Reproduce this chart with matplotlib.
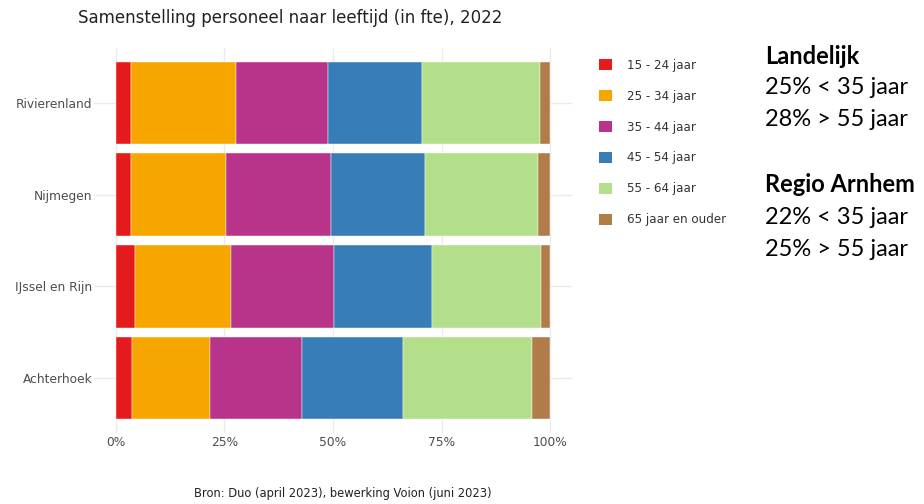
import numpy as np
import matplotlib.pyplot as plt
from matplotlib.patches import Patch
from matplotlib.ticker import FuncFormatter

regios = ['Rivierenland', 'Nijmegen', 'IJssel en Rijn', 'Achterhoek']
leeftijden = ['15 - 24 jaar', '25 - 34 jaar', '35 - 44 jaar',
              '45 - 54 jaar', '55 - 64 jaar', '65 jaar en ouder']

# aandeel fte per leeftijdsklasse (%), per regio
aandeel = {
    'Rivierenland':   [3.4, 24.3, 21.1, 21.6, 27.2, 2.4],
    'Nijmegen':       [3.4, 21.9, 24.2, 21.7, 25.9, 2.9],
    'IJssel en Rijn': [4.4, 22.2, 23.7, 22.4, 25.1, 2.2],
    'Achterhoek':     [3.7, 18.0, 21.1, 23.4, 29.7, 4.1],
}

kleuren = ['#e41a1c', '#f7a600', '#b8348b', '#377eb8', '#b3df8a', '#b07d4a']

fig = plt.figure(figsize=(9.24, 5.04), dpi=100)
ax = fig.add_axes([94 / 924, 1 - 433 / 504, 478 / 924, 385 / 504])

y = np.arange(len(regios))[::-1]
links = np.zeros(len(regios))
for i, lk in enumerate(leeftijden):
    w = np.array([aandeel[r][i] for r in regios]) / 100
    ax.barh(y, w, left=links, height=0.9, color=kleuren[i],
            edgecolor='white', linewidth=0.3, zorder=2)
    links += w

ax.set_xlim(-0.05, 1.05)
ax.set_ylim(-0.6, len(regios) - 0.4)
ax.set_xticks([0, 0.25, 0.5, 0.75, 1])
ax.xaxis.set_major_formatter(FuncFormatter(lambda v, p: f'{v * 100:.0f}%'))
ax.set_yticks(y)
ax.set_yticklabels(regios)
ax.tick_params(length=0, labelsize=8.8, labelcolor='#4d4d4d')
ax.tick_params(axis='y', pad=1)
ax.tick_params(axis='x', pad=2)
ax.grid(True, color='#ebebeb', linewidth=1, zorder=0)
ax.set_axisbelow(True)
for s in ax.spines.values():
    s.set_visible(False)

fig.text(290 / 924, 1 - 18 / 504, 'Samenstelling personeel naar leeftijd (in fte), 2022',
         ha='center', va='center', fontsize=12, color='#222222')
fig.text(492 / 924, 1 - 494 / 504, 'Bron: Duo (april 2023), bewerking Voion (juni 2023)',
         ha='right', va='center', fontsize=8.3, color='#222222')

handles = [Patch(facecolor=c, edgecolor='none') for c in kleuren]
fig.legend(handles, leeftijden, loc='upper left', bbox_to_anchor=(588 / 924, 1 - 48 / 504),
           frameon=False, fontsize=8.6, labelcolor='#333333', handlelength=1.1,
           handleheight=1.1, handletextpad=1.3, labelspacing=1.5)

zij = [('Landelijk', 57, 'bold'), ('25% < 35 jaar', 88, 'normal'),
       ('28% > 55 jaar', 120, 'normal'), ('Regio Arnhem', 185, 'bold'),
       ('22% < 35 jaar', 217, 'normal'), ('25% > 55 jaar', 249, 'normal')]
for tekst, ypos, gewicht in zij:
    fig.text(765 / 924, 1 - ypos / 504, tekst, ha='left', va='center',
             fontsize=17, fontweight=gewicht, family='Lato', color='black')

fig.savefig('out.png', dpi=100)
